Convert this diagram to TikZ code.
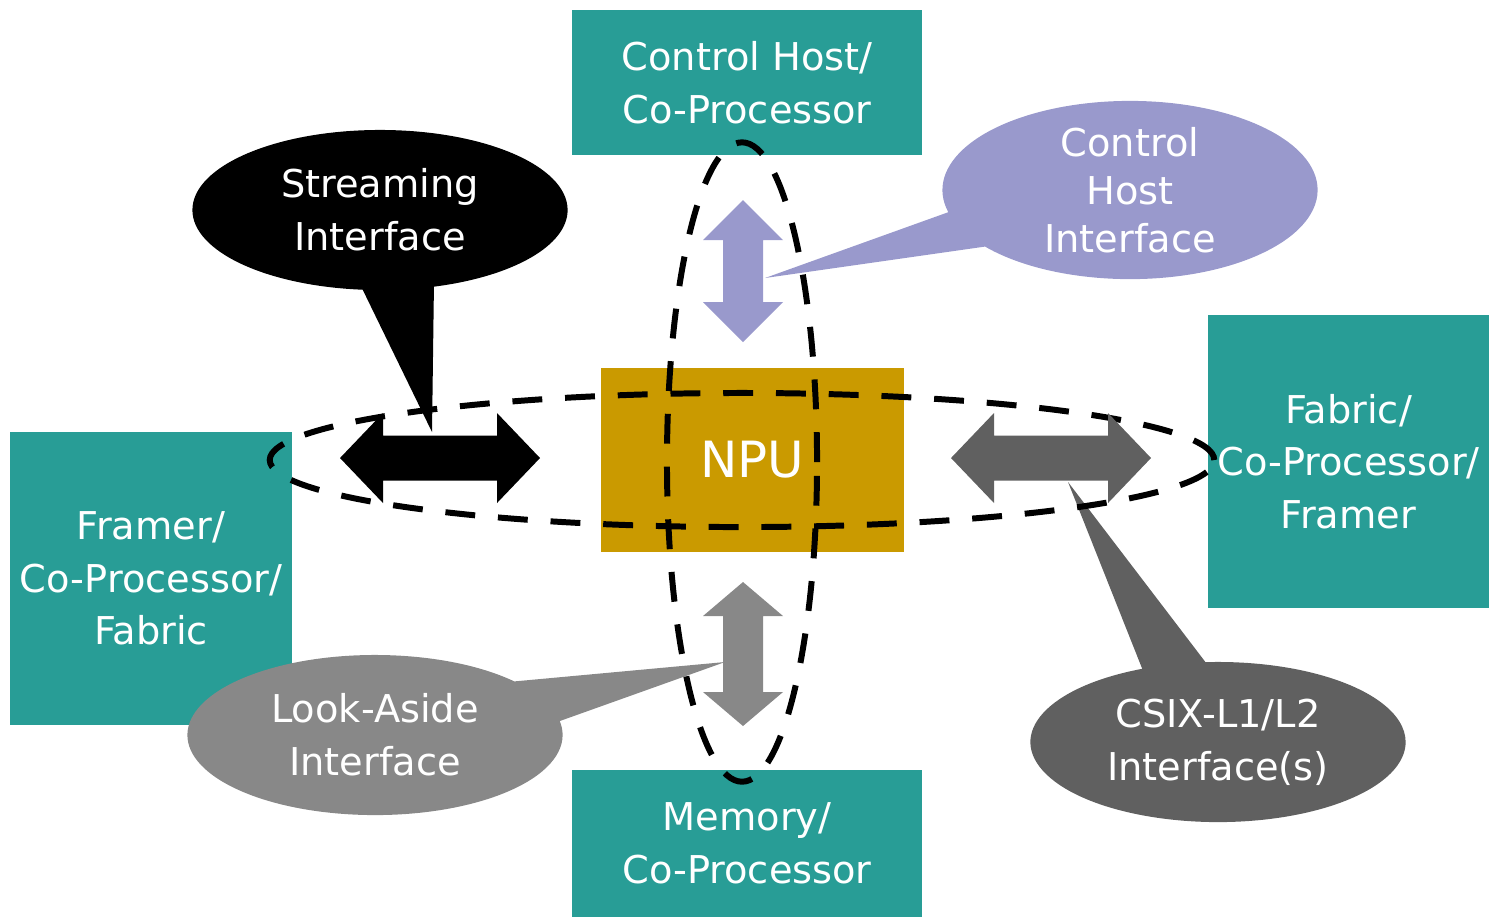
\documentclass[tikz,border=0pt]{standalone}
\usepackage{fontspec}
\setmainfont{DejaVu Sans}
\usepackage{tikz}
\usetikzlibrary{shapes.geometric,shapes.callouts}
\usepackage{xcolor}
\definecolor{boxteal}{RGB}{40,157,150}
\definecolor{npugold}{RGB}{202,154,0}
\definecolor{hostlav}{RGB}{153,153,204}
\definecolor{asidegray}{RGB}{136,136,136}
\definecolor{csixgray}{RGB}{96,96,96}
\newcommand{\labelfont}{\fontsize{10.9pt}{15pt}\selectfont}
% fat double arrow: x, y, angle, half length, head length, head half width, colour
\newcommand{\fatarrow}[7] {
    \fill[#7, shift={(#1,#2)}, rotate=#3]
        (-#4,0) -- (-#4+#5,#6) -- (-#4+#5,#6/2) -- (#4-#5,#6/2) -- (#4-#5,#6)
        -- (#4,0) -- (#4-#5,-#6) -- (#4-#5,-#6/2) -- (-#4+#5,-#6/2) -- (-#4+#5,-#6) -- cycle;
}
\tikzset{
    x={(0.01cm,0cm)},
    y={(0cm,-0.01cm)},
    unit/.style={
        rectangle,
        fill=boxteal,
        text=white,
        align=center,
        inner sep=0mm,
        font=\labelfont
    },
    bubble/.style={
        ellipse callout,
        minimum width=3.75cm,
        minimum height=1.6cm,
        inner sep=0mm,
        text=white,
        align=center,
        font=\labelfont
    },
    ring/.style={
        ellipse,
        draw=black,
        line width=1.7pt,
        dash pattern=on 8.5pt off 6.5pt,
        inner sep=0mm
    }
}
\begin{document}
\begin{tikzpicture}
    \useasboundingbox (0,0) rectangle (1489,917);
    % units round the NPU
    \node[unit,minimum width=3.50cm,minimum height=1.45cm] (host)   at (747,82.5)   {Control Host/\\Co-Processor};
    \node[unit,minimum width=2.82cm,minimum height=2.93cm] (framer) at (151,578.5)  {Framer/\\Co-Processor/\\Fabric};
    \node[unit,minimum width=2.81cm,minimum height=2.93cm] (fabric) at (1348.5,461.5) {Fabric/\\Co-Processor/\\Framer};
    \node[unit,minimum width=3.50cm,minimum height=1.47cm] (memory) at (747,843.5)  {Memory/\\Co-Processor};
    \node[unit,fill=npugold,minimum width=3.03cm,minimum height=1.84cm,font=\fontsize{14.2pt}{16pt}\selectfont] (npu) at (752.5,460) {NPU};
    % callouts
    \coordinate (streamtip) at (432,432);
    \coordinate (hosttip)   at (765,278);
    \coordinate (asidetip)  at (725,662);
    \coordinate (csixtip)   at (1068,482);
    \node[bubble,fill=black,callout absolute pointer={(streamtip)},callout pointer arc=22] (stream) at (380,210) {Streaming\\Interface};
    \node[bubble,fill=hostlav,callout absolute pointer={(hosttip)},callout pointer arc=25,font=\fontsize{10.9pt}{13.7pt}\selectfont] (hostif) at (1130,190) {Control\\Host\\Interface};
    \node[bubble,fill=asidegray,callout absolute pointer={(asidetip)},callout pointer arc=32] (aside) at (375,735) {Look-Aside\\Interface};
    \node[bubble,fill=csixgray,callout absolute pointer={(csixtip)},callout pointer arc=20] (csix) at (1218,742) {CSIX-L1/L2\\Interface(s)};
    % dashed rings
    \node[ring,minimum width=9.44cm,minimum height=1.34cm] (hring) at (742,460) {};
    \node[ring,minimum width=1.50cm,minimum height=6.39cm] (vring) at (742,462) {};
    % arrows
    \fatarrow{440}{458}{0}{100}{43}{45}{black}
    \fatarrow{1051}{458}{0}{100}{43}{45}{csixgray}
    \fatarrow{743}{271}{90}{71}{40}{40}{hostlav}
    \fatarrow{743}{654}{90}{72}{34}{40}{asidegray}
\end{tikzpicture}
\end{document}
